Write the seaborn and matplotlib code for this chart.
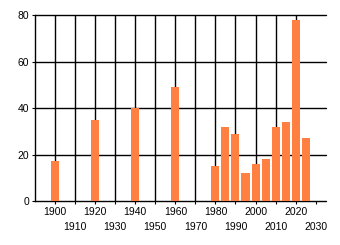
import matplotlib
matplotlib.use("Agg")
import matplotlib.pyplot as plt
import seaborn as sns
import pandas as pd

years = [1900, 1920, 1940, 1960, 1980, 1985, 1990, 1995, 2000, 2005, 2010, 2015, 2020, 2025]
values = [17, 35, 40, 49, 15, 32, 29, 12, 16, 18, 32, 34, 78, 27]
x_ticks = list(range(1900, 2031, 10))
y_ticks = [0, 20, 40, 60, 80]

sns.set_style("white")
plt.rcParams['font.family'] = ['Liberation Sans', 'DejaVu Sans']

fig = plt.figure(figsize=(3.4, 2.45), dpi=100)
ax = fig.add_axes([35/340, 44/245, (325.7-35)/340, 186/245])

df = pd.DataFrame({"year": years, "value": values})
sns.barplot(data=df, x="year", y="value", native_scale=True, width=0.8,
            color="#FF8040", saturation=1, edgecolor="none", ax=ax, zorder=3)

ax.set_xlim(1890, 2035)
ax.set_ylim(0, 80)
ax.set_xlabel("")
ax.set_ylabel("")

# horizontal grid
for v in y_ticks:
    ax.axhline(v, color="black", lw=1.0, zorder=1, clip_on=False)
# vertical grid (all decades except the last)
for xv in x_ticks[:-1]:
    ax.axvline(xv, color="black", lw=1.0, zorder=1)

ax.set_yticks(y_ticks)
ax.set_yticklabels([str(v) for v in y_ticks])
ax.set_xticks(x_ticks[0::2])
ax.set_xticklabels([str(v) for v in x_ticks[0::2]])
ax.set_xticks(x_ticks[1::2], minor=True)
ax.set_xticklabels([str(v) for v in x_ticks[1::2]], minor=True)

ax.tick_params(axis="x", which="major", direction="out", length=2.5, width=0.8,
               pad=1.5, labelsize=7.5, colors="black", bottom=True)
ax.tick_params(axis="x", which="minor", direction="out", length=2.5, width=0.8,
               pad=12.5, labelsize=7.5, colors="black", bottom=True)
ax.tick_params(axis="y", direction="out", length=2.5, width=0.8, pad=1.5,
               labelsize=7.5, colors="black", left=True)

for s in ["top", "right", "bottom"]:
    ax.spines[s].set_visible(False)
ax.spines["left"].set_color("black")
ax.spines["left"].set_linewidth(1.0)

fig.savefig("out.png", dpi=100)
